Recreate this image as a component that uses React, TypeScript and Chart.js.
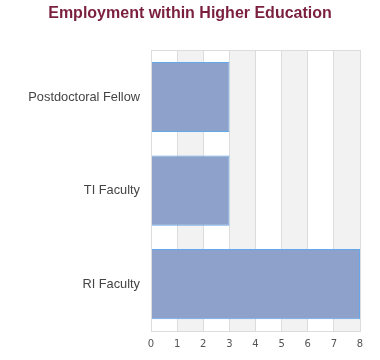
import React, { useEffect, useRef } from "react";
import { Chart, registerables } from "chart.js";

Chart.register(...registerables);

const categories = ["Postdoctoral Fellow", "TI Faculty", "RI Faculty"];
const counts = [3, 3, 8];
const xTicks = [0, 1, 2, 3, 4, 5, 6, 7, 8];

const bandPlugin = {
  id: "bands",
  beforeDraw(chart: any) {
    const { ctx, chartArea, scales } = chart;
    const x = scales.x;
    ctx.save();
    for (let i = 1; i < xTicks.length; i += 2) {
      const a = x.getPixelForValue(xTicks[i]);
      const b = x.getPixelForValue(xTicks[i + 1] ?? xTicks[i]);
      ctx.fillStyle = "#f2f2f2";
      ctx.fillRect(a, chartArea.top, b - a, chartArea.bottom - chartArea.top);
    }
    ctx.restore();
  },
  afterDraw(chart: any) {
    const { ctx, chartArea } = chart;
    ctx.save();
    ctx.strokeStyle = "#dcdcdc";
    ctx.lineWidth = 1;
    ctx.strokeRect(
      Math.round(chartArea.left) + 0.5,
      Math.round(chartArea.top) + 0.5,
      Math.round(chartArea.right - chartArea.left),
      Math.round(chartArea.bottom - chartArea.top)
    );
    ctx.restore();
  },
};

export default function App() {
  const ref = useRef<HTMLCanvasElement>(null);
  useEffect(() => {
    if (!ref.current) return;
    const chart = new Chart(ref.current, {
      type: "bar",
      data: {
        labels: categories,
        datasets: [
          {
            data: counts,
            backgroundColor: "#8ea1cb",
            borderColor: "#64a8ec",
            borderWidth: { top: 1, bottom: 1, right: 1, left: 0 },
            borderSkipped: false,
            barPercentage: 0.75,
            categoryPercentage: 1,
          },
        ],
      },
      options: {
        indexAxis: "y",
        animation: false,
        responsive: true,
        maintainAspectRatio: false,
        layout: { padding: { top: 4, right: 20, bottom: 3, left: 20 } },
        plugins: {
          legend: { display: false },
          tooltip: { enabled: false },
          title: {
            display: true,
            text: "Employment within Higher Education",
            color: "#7b1f3f",
            font: { family: "Liberation Sans, Arial", size: 16, weight: "bold" },
            padding: { top: 0, bottom: 27 },
          },
        },
        scales: {
          x: {
            min: 0,
            max: 8,
            ticks: {
              stepSize: 1,
              color: "#555",
              font: { family: "DejaVu Sans", size: 10 },
              padding: 7,
            },
            grid: { color: "#dcdcdc", drawTicks: false },
            border: { display: false },
          },
          y: {
            afterFit(scale: any) {
              scale.width = 131;
            },
            ticks: {
              color: "#444",
              font: { family: "Liberation Sans, Arial", size: 12.8 },
              padding: 11,
            },
            grid: { display: false, drawTicks: false },
            border: { display: false },
          },
        },
      },
      plugins: [bandPlugin],
    });
    return () => chart.destroy();
  }, []);
  return (
    <div style={{ position: "fixed", left: 0, top: 0, width: 380, height: 360 }}>
      <canvas ref={ref} />
    </div>
  );
}
